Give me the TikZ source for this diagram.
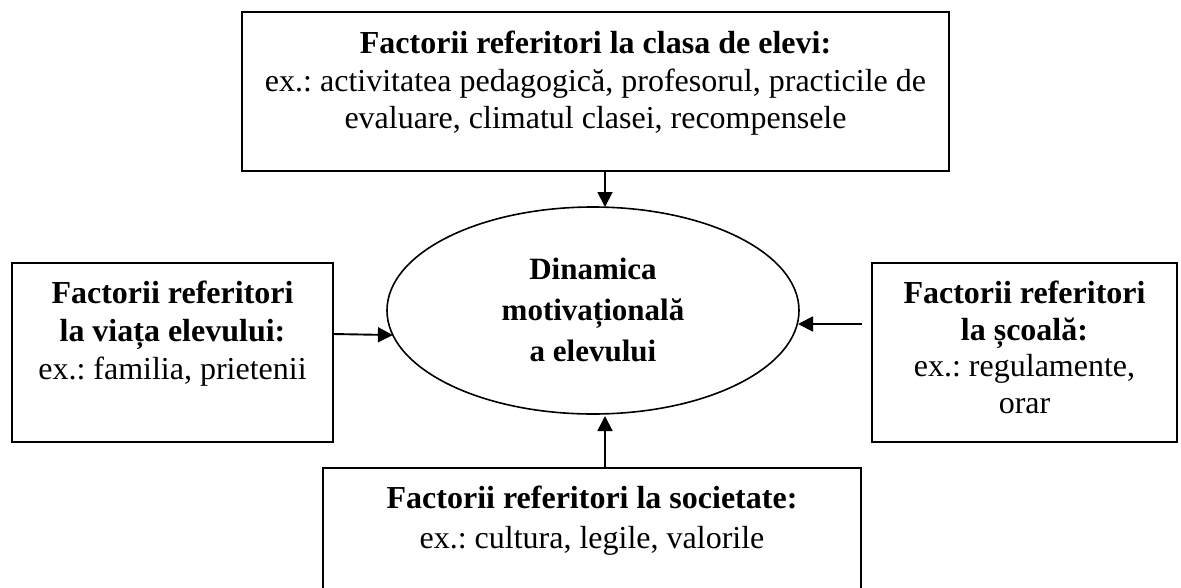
\documentclass[tikz,border=0pt]{standalone}
\usepackage{fontspec}
\setmainfont{Liberation Serif}
\usetikzlibrary{arrows.meta,shapes.geometric}
\begin{document}
\frenchspacing
\begin{tikzpicture}[x=1pt,y=-1pt,
  box/.style={draw, line width=1.6pt, rectangle, inner sep=0pt, outer sep=0pt},
  oval/.style={draw, line width=1.6pt, ellipse, inner sep=0pt, outer sep=0pt},
  txt/.style={align=center, inner sep=0pt, anchor=north},
  arr/.style={line width=1.9pt, -{Triangle[length=15pt,width=15pt]}}]
\useasboundingbox (0,0) rectangle (1181,587);
% boxes
\node[box, minimum width=707pt, minimum height=159pt] (top) at (595.5,91.5) {};
\node[box, minimum width=321pt, minimum height=179pt] (left) at (172.5,352.5) {};
\node[box, minimum width=305pt, minimum height=179pt] (right) at (1024.5,352.5) {};
\node[box, minimum width=538pt, minimum height=132pt] (bot) at (592,534) {};
\node[oval, minimum width=412pt, minimum height=207pt] (dyn) at (593,310.5) {};
% texts
\node[txt, font=\fontsize{32}{37.5}\selectfont] (toptxt) at ([yshift=-19pt]top.north)
  {\textbf{Factorii referitori la clasa de elevi:}\\ ex.: activitatea pedagogică, profesorul, practicile de\\ evaluare, climatul clasei, recompensele};
\node[txt, font=\fontsize{32}{38}\selectfont] (lefttxt) at ([yshift=-17.5pt]left.north)
  {\textbf{Factorii referitori}\\ \textbf{la viața elevului:}\\ ex.: familia, prietenii};
\node[txt, font=\fontsize{32}{36.5}\selectfont] (righttxt) at ([yshift=-18pt]right.north)
  {\textbf{Factorii referitori}\\ \textbf{la școală:}\\ ex.: regulamente,\\ orar};
\node[txt, font=\fontsize{32}{40}\selectfont] (bottxt) at ([yshift=-18pt]bot.north)
  {\textbf{Factorii referitori la societate:}\\ ex.: cultura, legile, valorile};
\node[txt, font=\fontsize{31}{41}\selectfont] (dyntxt) at ([yshift=53pt]dyn.center)
  {\textbf{Dinamica}\\ \textbf{motivațională}\\ \textbf{a elevului}};
% connectors
\draw[arr] ([xshift=9.5pt]top.south) -- ([xshift=9.5pt]top.south |- dyn.north);
\draw[arr] ([xshift=13pt]bot.north) -- ([xshift=13pt,yshift=-2pt]bot.north |- dyn.south);
\draw[arr] ([yshift=18.5pt]left.east) -- (dyn.187.3);
\draw[arr] ([xshift=-10pt,yshift=28.5pt]right.west) -- ([xshift=-1pt,yshift=28.5pt]right.west -| dyn.east);
\end{tikzpicture}
\end{document}
